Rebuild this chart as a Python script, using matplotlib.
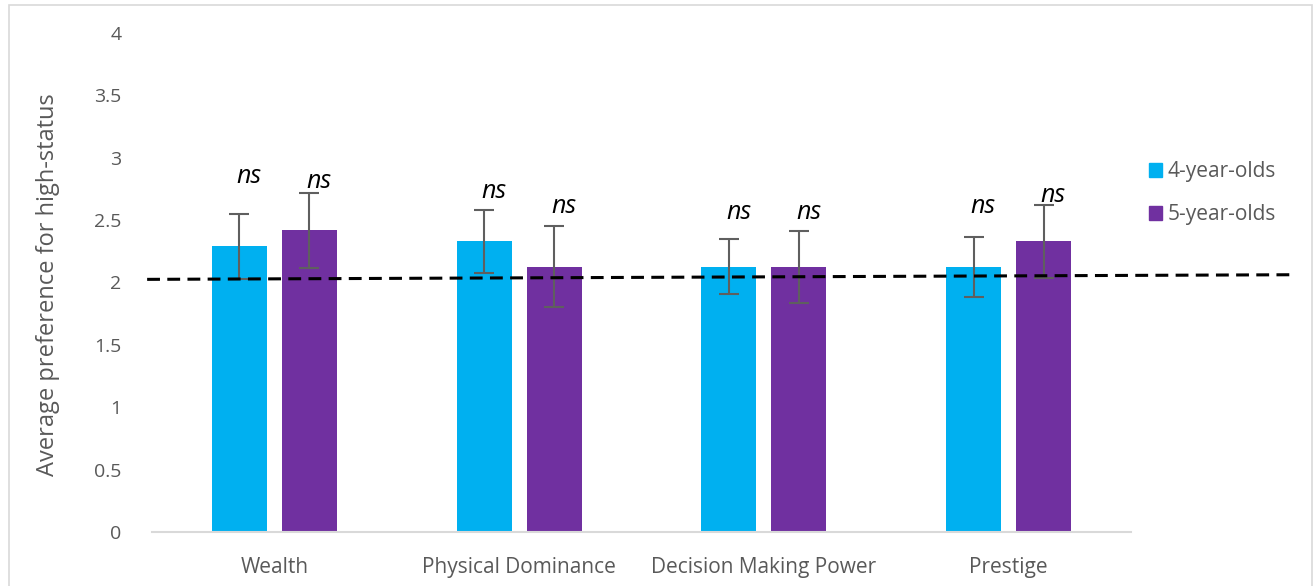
import matplotlib.pyplot as plt
import matplotlib.patches as mpatches
import numpy as np

plt.rcParams['font.family'] = ['Open Sans', 'DejaVu Sans']

categories = ["Wealth", "Physical Dominance", "Decision Making Power", "Prestige"]
groups = ["4-year-olds", "5-year-olds"]
mean_4 = [2.29, 2.33, 2.125, 2.125]
mean_5 = [2.42, 2.125, 2.125, 2.33]
err_4 = [0.26, 0.255, 0.22, 0.24]
err_5 = [0.30, 0.325, 0.29, 0.295]
ns_y_4 = [2.85, 2.73, 2.56, 2.61]
ns_y_5 = [2.81, 2.61, 2.56, 2.70]
chance = [2.025, 2.062]

blue = "#00B0F0"
purple = "#7030A0"
txt = "#595959"

fig = plt.figure(figsize=(13.14, 5.86), dpi=100)
ax = fig.add_axes([0.1157, 0.0922, 0.745, 0.8515])

x = np.arange(len(categories))
off = 0.143
w = 0.225
ax.bar(x - off, mean_4, w, color=blue, label=groups[0], zorder=2)
ax.bar(x + off, mean_5, w, color=purple, label=groups[1], zorder=2)
ekw = dict(fmt="none", ecolor="#5f5f5f", elinewidth=1.5, capsize=7.5, capthick=1.5, zorder=3)
ax.errorbar(x - off, mean_4, yerr=err_4, **ekw)
ax.errorbar(x + off, mean_5, yerr=err_5, **ekw)

# ns labels over each bar
for i in range(len(categories)):
    ax.text(x[i] - off + 0.04, ns_y_4[i], "ns", style="italic", fontsize=18,
            ha="center", va="center", color="black", zorder=4)
    ax.text(x[i] + off + 0.04, ns_y_5[i], "ns", style="italic", fontsize=18,
            ha="center", va="center", color="black", zorder=4)

# chance level line, runs past the plot into the legend area
ax.plot([-0.52, 4.15], chance, color="black", lw=2.2, ls=(0, (4.2, 2.4)),
        clip_on=False, zorder=5)

ax.set_xlim(-0.5, 3.5)
ax.set_ylim(0, 4)
ax.set_yticks(np.arange(0, 4.01, 0.5))
ax.set_yticklabels(["0", "0.5", "1", "1.5", "2", "2.5", "3", "3.5", "4"])
ax.set_xticks(x)
ax.set_xticklabels(categories)
ax.tick_params(axis="both", length=0, labelsize=14, labelcolor=txt)
ax.tick_params(axis="x", labelsize=15, pad=18)
ax.tick_params(axis="y", pad=22)
for s in ["top", "right", "left"]:
    ax.spines[s].set_visible(False)
ax.spines["bottom"].set_color("#d9d9d9")
ax.spines["bottom"].set_linewidth(1.5)
ax.set_ylabel("Average preference for high-status", fontsize=17, color=txt)
ax.yaxis.set_label_coords(-0.094, 0.495)

handles = [mpatches.Patch(color=blue), mpatches.Patch(color=purple)]
fig.legend(handles, groups, loc="center left", bbox_to_anchor=(0.860, 0.670),
           frameon=False, fontsize=15, labelcolor=txt, handlelength=0.62,
           handleheight=0.62, handletextpad=0.3, labelspacing=1.05)

# outer chart border
fig.add_artist(mpatches.Rectangle((0.0068, -0.02), 0.9917, 1.0115, transform=fig.transFigure,
                                  fill=False, edgecolor="#d9d9d9", lw=1.2))

fig.savefig("out.png", dpi=100)
